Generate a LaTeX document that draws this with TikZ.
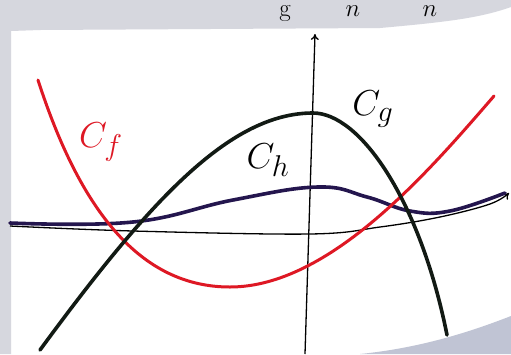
\documentclass[tikz,border=0pt]{standalone}
\usetikzlibrary{arrows.meta}
\definecolor{cfred}{RGB}{222,24,36}
\definecolor{cgblack}{RGB}{18,26,20}
\definecolor{chnavy}{RGB}{36,22,78}
\definecolor{pagegray}{RGB}{214,215,222}
\definecolor{shadegray}{RGB}{192,196,212}
\begin{document}
\begin{tikzpicture}[x=1pt,y=-1pt,
  axis/.style={line width=1.3pt, black},
  curvef/.style={line width=3pt, cfred, line cap=round},
  curveg/.style={line width=3.6pt, cgblack, line cap=round},
  curveh/.style={line width=3.6pt, chnavy, line cap=round},
  lab/.style={font=\Huge, scale=1.45, inner sep=0pt},
  toptext/.style={font=\Huge, scale=1.0, inner sep=0pt, anchor=base}]
\useasboundingbox (0,0) rectangle (511,354);
\fill[white] (0,0) rectangle (511,354);
% gray page surroundings
\fill[pagegray] (0,0) -- (511,0) -- (511,7) .. controls (480,18) and (447,22) .. (380,28)
   -- (40,30) -- (11,31) -- (11,354) -- (0,354) -- cycle;
\fill[shadegray] (511,316) .. controls (470,332) and (420,348) .. (360,354) -- (511,354) -- cycle;
% text at top
\node[toptext] (tg) at (285,16) {g};
\node[toptext] (th) at (353,16) {$n$};
\node[toptext] (tn) at (430,16) {$n$};
% axes
\coordinate (yb) at (305,354);
\coordinate (yt) at (315,34);
\draw[axis, -{To[length=6pt,width=8pt]}] (yb) -- (yt);
\draw[axis, -{To[length=6pt,width=8pt]}] plot[smooth, tension=0.6] coordinates
  {(10,226) (133,231) (310,234) (380,227) (440,217) (490,204) (509,193)};
% C_h
\draw[curveh] plot[smooth, tension=0.7] coordinates
  {(10,223) (133,222) (233,200) (318,187) (367,197) (410,211) (450,211) (505,193)};
% C_f
\coordinate (f0) at (38,80);
\coordinate (fm) at (230,287);
\coordinate (f1) at (494,96);
\draw[curvef] (f0) .. controls (80,210) and (140,287) .. (fm)
  .. controls (330,287) and (430,170) .. (f1);
% C_g
\coordinate (g0) at (40,350);
\coordinate (gm) at (313,113);
\coordinate (g1) at (447,335);
\draw[curveg] (g0) .. controls (150,200) and (230,113) .. (gm)
  .. controls (360,113) and (420,200) .. (g1);
% labels
\node[lab, text=cfred] (lf) at (101,142) {$C_f$};
\node[lab, text=black] (lg) at (373,109) {$C_g$};
\node[lab, text=black] (lh) at (268,160) {$C_h$};
\end{tikzpicture}
\end{document}
